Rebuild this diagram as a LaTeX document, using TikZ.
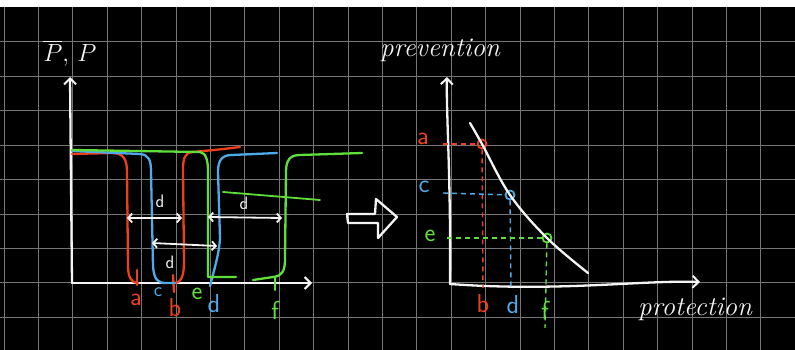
\documentclass[tikz,border=0pt]{standalone}
\usepackage{amsmath}
\usepackage{xcolor}
\usepackage{tikz}
\usetikzlibrary{positioning,arrows.meta,calc}
\definecolor{board}{HTML}{000000}
\definecolor{gridline}{HTML}{767676}
\definecolor{chalk}{HTML}{F4F4F4}
\definecolor{redpen}{HTML}{EE3F1C}
\definecolor{bluepen}{HTML}{4FAAEA}
\definecolor{greenpen}{HTML}{60DE3A}
\tikzset{
  penline/.style ={draw=#1, line width=2.3pt, line cap=round, line join=round},
  axisarr/.style ={penline=chalk, -{Straight Barb[length=6pt,width=12pt,line width=2pt]}},
  spanarr/.style ={penline=chalk, line width=1.8pt,
                   {Straight Barb[length=4pt,width=9pt]}-{Straight Barb[length=4pt,width=9pt]}},
  guide/.style   ={draw=#1, line width=1.4pt, dash pattern=on 5pt off 4pt},
  dot/.style     ={circle, draw=#1, line width=1.8pt, minimum size=9pt, inner sep=0pt},
  tag/.style     ={text=#1, font=\fontsize{26}{28}\sffamily\selectfont, inner sep=0pt},
  dtag/.style    ={text=chalk, font=\fontsize{18}{20}\sffamily\selectfont, inner sep=0pt},
  word/.style    ={text=chalk, font=\fontsize{27}{29}\selectfont\itshape, inner sep=0pt},
}
\begin{document}
\begin{tikzpicture}[x=1pt,y=-1pt]
\useasboundingbox (0,0) rectangle (795,350);
\fill[white] (0,0) rectangle (795,7);
\fill[board] (0,7) rectangle (795,350);
\foreach \i in {0,...,23}
  \draw[gridline, line width=0.8pt] ({4+34.4*\i},7) -- ({4+34.4*\i},350);
\foreach \j in {1,...,9}
  \draw[gridline, line width=0.8pt] (0,{7.5+34.4*\j}) -- (795,{7.5+34.4*\j});

% left sketch
\coordinate (o) at (72,283);
\coordinate (ytop) at (70,77);
\coordinate (xend) at (312,283);
\draw[axisarr] (o) -- (ytop);
\draw[axisarr] (o) -- (xend);
\node[word, font=\fontsize{32}{34}\selectfont, anchor=base] (psi) at (70,62) {$\overline{P},\,P$};

\draw[penline=redpen] (72,154) -- (112,153) .. controls (124,153) and (127,160) .. (127,172)
  -- (128,266) .. controls (128,278) and (132,283) .. (138,283);
\draw[penline=redpen] (137,270) -- (137,285);
\draw[penline=redpen] (240,147) .. controls (215,150) .. (192,152) .. controls (185,153) and (183,158) .. (183,170)
  -- (184,262) .. controls (184,276) and (181,283) .. (174,283);
\draw[penline=redpen] (173,275) -- (174,292);
\draw[penline=bluepen] (72,151) -- (140,154) .. controls (149,155) and (151,160) .. (151,172)
  -- (153,266) .. controls (154,280) and (158,283) .. (166,283) -- (175,283);
\draw[penline=bluepen] (210,286) .. controls (214,270) and (219,255) .. (220,238)
  -- (218,172) .. controls (218,160) and (222,155) .. (232,155) -- (277,153);
\draw[penline=greenpen] (72,150) -- (200,152) .. controls (206,153) and (208,160) .. (208,172)
  -- (208,277) -- (236,277);
\draw[penline=greenpen] (253,280) -- (273,277) .. controls (283,276) and (285,270) .. (285,258)
  -- (286,172) .. controls (286,160) and (290,155) .. (300,155) -- (362,153);
\draw[penline=greenpen, line width=1.8pt] (223,192) -- (320,200);
\draw[penline=greenpen] (275,278) -- (275,290);

\coordinate (s1a) at (127,218);
\coordinate (s1b) at (182,218);
\coordinate (s2a) at (208,217);
\coordinate (s2b) at (282,218);
\coordinate (s3a) at (152,243);
\coordinate (s3b) at (217,246);
\draw[spanarr] (s1a) -- (s1b);
\draw[spanarr] (s2a) -- (s2b);
\draw[spanarr] (s3a) -- (s3b);
\node[dtag] (d1) at (160,201) {d};
\node[dtag] (d2) at (244,203) {d};
\node[dtag] (d3) at (170,262) {d};

\node[tag=redpen] (la) at (136,300) {a};
\node[tag=bluepen, font=\fontsize{20}{22}\sffamily\selectfont] (lc) at (158,292) {c};
\node[tag=redpen] (lb) at (175,308) {b};
\node[tag=greenpen] (le) at (197,294) {e};
\node[tag=bluepen] (ld) at (214,304) {d};
\node[tag=greenpen] (lf) at (275,310) {f};

% big arrow
\draw[penline=chalk] (347,214) -- (375,214) -- (376,199) -- (397,217) -- (378,238)
  -- (378,223) -- (348,223) -- cycle;

% right sketch
\coordinate (o2) at (450,284);
\coordinate (ytop2) at (447,77);
\coordinate (xend2) at (700,282);
\draw[axisarr] (o2) .. controls (451,180) and (446,110) .. (ytop2);
\draw[axisarr] (o2) .. controls (560,292) and (640,280) .. (xend2);
\node[word, anchor=base west] (prev) at (380,57) {prevention};
\node[word, anchor=base west] (prot) at (638,315) {protection};

\node[dot=redpen] (pa) at (482,144) {};
\node[dot=bluepen] (pc) at (510,195) {};
\node[dot=greenpen] (pe) at (547,238) {};
\draw[penline=chalk] plot[smooth, tension=0.6] coordinates
  {(470,123) (pa.center) (pc.center) (pe.center) (588,273)};

\coordinate (ga) at (443,144);
\coordinate (gc) at (443,193);
\coordinate (ge) at (447,238);
\coordinate (gb) at (483,288);
\coordinate (gd) at (511,290);
\coordinate (gf) at (545,328);
\draw[guide=redpen] (ga) -- (pa);
\draw[guide=redpen] (pa) -- (gb);
\draw[guide=bluepen] (gc) -- (pc);
\draw[guide=bluepen] (pc) -- (gd);
\draw[guide=greenpen] (ge) -- (pe);
\draw[guide=greenpen] (pe) -- (gf);

\node[tag=redpen] (ra) at (423,139) {a};
\node[tag=bluepen] (rc) at (424,187) {c};
\node[tag=greenpen] (re) at (430,236) {e};
\node[tag=redpen] (rb) at (483,304) {b};
\node[tag=bluepen] (rd) at (513,305) {d};
\node[tag=greenpen] (rf) at (545,310) {f};
\end{tikzpicture}
\end{document}
